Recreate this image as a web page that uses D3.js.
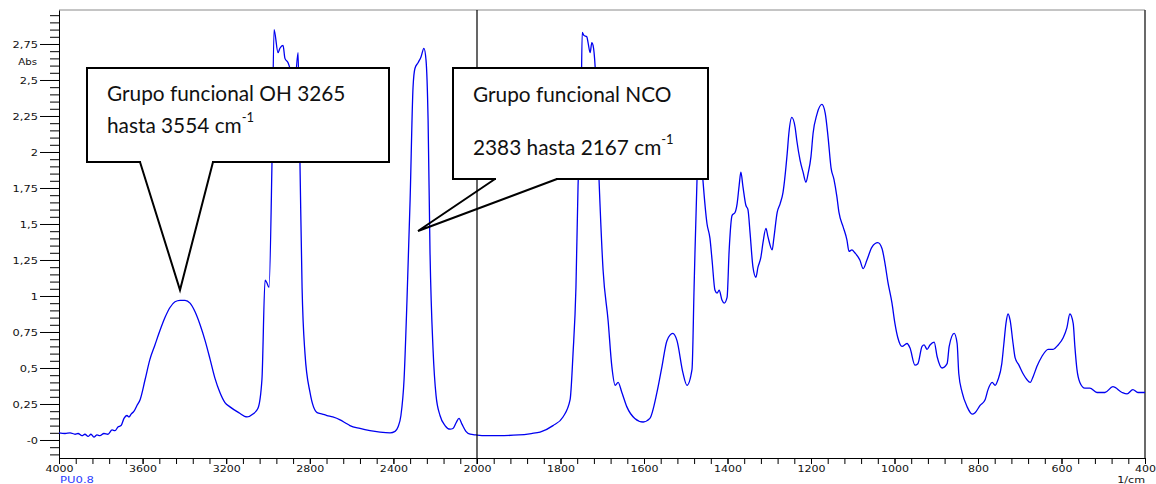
<!DOCTYPE html>
<html lang="es">
<head>
<meta charset="utf-8">
<script src="https://cdn.jsdelivr.net/npm/d3@7"></script>
<style>
  body { margin: 0; background: #fff; }
  svg { display: block; }
</style>
</head>
<body>
<script>
// spectrum: wavenumber (1/cm) and absorbance
const waveNumber = [
  4000, 3971, 3947, 3923, 3909, 3890, 3876, 3861, 3847, 3833, 3818, 3804, 3785, 3766, 3746, 3732,
  3718, 3703, 3689, 3675, 3665, 3655, 3641, 3627, 3612, 3588, 3565, 3541, 3517, 3493, 3469, 3445,
  3421, 3397, 3373, 3349, 3325, 3301, 3277, 3254, 3230, 3206, 3182, 3140, 3100, 3072, 3048, 3029,
  3014, 3005, 2995, 2981, 2971, 2952, 2943, 2928, 2919, 2904, 2895, 2880, 2866, 2856, 2847, 2837,
  2823, 2799, 2765, 2740, 2718, 2690, 2655, 2631, 2608, 2560, 2512, 2464, 2416, 2392, 2378, 2364,
  2349, 2335, 2320, 2306, 2297, 2282, 2268, 2254, 2244, 2234, 2225, 2210, 2196, 2177, 2153, 2129,
  2115, 2100, 2086, 2072, 2053, 2033, 2005, 1980, 1950, 1900, 1870, 1849, 1818, 1794, 1777, 1770,
  1763, 1758, 1751, 1748, 1744, 1737, 1734, 1729, 1725, 1722, 1717, 1708, 1698, 1686, 1677, 1669,
  1662, 1653, 1641, 1622, 1602, 1586, 1569, 1557, 1545, 1531, 1521, 1507, 1497, 1485, 1480, 1473,
  1466, 1459, 1449, 1442, 1437, 1430, 1425, 1420, 1413, 1408, 1401, 1396, 1389, 1382, 1377, 1372,
  1368, 1363, 1356, 1351, 1346, 1339, 1332, 1327, 1320, 1315, 1308, 1303, 1293, 1289, 1281, 1274,
  1267, 1257, 1253, 1246, 1238, 1234, 1226, 1219, 1212, 1207, 1200, 1195, 1186, 1174, 1166, 1159,
  1152, 1145, 1138, 1133, 1123, 1114, 1109, 1102, 1095, 1083, 1075, 1066, 1054, 1040, 1030, 1023,
  1016, 1006, 999, 992, 982, 970, 963, 951, 944, 934, 929, 922, 915, 905, 898, 886,
  874, 869, 857, 850, 846, 838, 826, 814, 807, 795, 783, 776, 766, 759, 752, 743,
  738, 733, 728, 723, 716, 711, 702, 692, 683, 675, 668, 659, 647, 632, 620, 608,
  596, 587, 580, 572, 568, 563, 556, 544, 532, 515, 496, 477, 455, 443, 429, 417, 400
];
const absorbance = [
  0.05, 0.045, 0.05, 0.04, 0.045, 0.03, 0.04, 0.025, 0.04, 0.02, 0.035, 0.03, 0.045, 0.04, 0.07, 0.065,
  0.09, 0.10, 0.15, 0.17, 0.16, 0.18, 0.20, 0.24, 0.28, 0.42, 0.56, 0.66, 0.76, 0.85, 0.92, 0.96,
  0.97, 0.97, 0.95, 0.89, 0.80, 0.69, 0.56, 0.43, 0.33, 0.26, 0.23, 0.19, 0.16, 0.18, 0.22, 0.42,
  1.11, 1.09, 1.06, 1.92, 2.85, 2.69, 2.72, 2.74, 2.65, 2.62, 2.58, 2.45, 2.55, 2.69, 1.92, 1.06,
  0.60, 0.33, 0.19, 0.18, 0.17, 0.16, 0.14, 0.12, 0.10, 0.08, 0.065, 0.055, 0.05, 0.06, 0.09, 0.17,
  0.42, 0.97, 1.67, 2.45, 2.58, 2.62, 2.66, 2.72, 2.64, 2.22, 1.32, 0.62, 0.31, 0.17, 0.10, 0.075,
  0.08, 0.12, 0.15, 0.11, 0.06, 0.04, 0.035, 0.03, 0.03, 0.035, 0.045, 0.055, 0.10, 0.16, 0.28, 0.60,
  1.06, 1.76, 2.22, 2.83, 2.81, 2.80, 2.76, 2.69, 2.76, 2.74, 2.59, 1.83, 1.18, 0.83, 0.51, 0.38,
  0.40, 0.33, 0.23, 0.15, 0.125, 0.15, 0.33, 0.51, 0.69, 0.74, 0.69, 0.47, 0.38, 0.49, 1.06, 1.81,
  2.10, 1.81, 1.50, 1.40, 1.25, 1.04, 1.02, 1.04, 0.97, 0.95, 0.99, 1.32, 1.56, 1.58, 1.64, 1.77,
  1.86, 1.76, 1.63, 1.60, 1.44, 1.20, 1.13, 1.20, 1.27, 1.37, 1.47, 1.41, 1.32, 1.40, 1.58, 1.64,
  1.72, 1.99, 2.13, 2.24, 2.17, 2.08, 1.94, 1.86, 1.79, 1.85, 1.97, 2.13, 2.26, 2.33, 2.27, 2.10,
  1.89, 1.81, 1.69, 1.58, 1.48, 1.39, 1.31, 1.32, 1.30, 1.25, 1.19, 1.25, 1.34, 1.37, 1.33, 1.23,
  1.10, 0.95, 0.81, 0.71, 0.65, 0.67, 0.64, 0.52, 0.53, 0.65, 0.66, 0.63, 0.66, 0.68, 0.58, 0.50,
  0.53, 0.65, 0.74, 0.67, 0.46, 0.33, 0.23, 0.18, 0.19, 0.24, 0.28, 0.35, 0.40, 0.38, 0.42, 0.53,
  0.67, 0.81, 0.875, 0.83, 0.67, 0.57, 0.52, 0.46, 0.42, 0.40, 0.44, 0.51, 0.58, 0.63, 0.63, 0.66,
  0.71, 0.78, 0.875, 0.81, 0.65, 0.49, 0.40, 0.36, 0.36, 0.33, 0.33, 0.37, 0.33, 0.32, 0.35, 0.33, 0.33
];

// axis ticks
const xMajor = [4000, 3600, 3200, 2800, 2400, 2000, 1800, 1600, 1400, 1200, 1000, 800, 600, 400];
const yMajor = [0, 0.25, 0.5, 0.75, 1, 1.25, 1.5, 1.75, 2, 2.25, 2.5, 2.75];
const yLabels = ["-0", "0,25", "0,5", "0,75", "1", "1,25", "1,5", "1,75", "2", "2,25", "2,5", "2,75"];

// callout texts
const calloutOH = ["Grupo funcional OH 3265", "hasta 3554 cm"];
const calloutNCO = ["Grupo funcional NCO", "2383 hasta 2167 cm"];

var width = 1156, height = 484;
var plot = {left: 59, right: 1145, top: 10, bottom: 458};

var svg = d3.select("body").append("svg")
            .attr("width", width)
            .attr("height", height)
            .style("font-family", "'DejaVu Sans', sans-serif");

// the spectrometer doubles the scale below 2000 1/cm
var x = d3.scaleLinear().domain([4000, 2000, 400]).range([plot.left, 477, plot.right]);
var y = d3.scaleLinear().domain([-0.125, 2.986]).range([plot.bottom, plot.top]);

var xMinor = d3.range(4000, 2000, -80).concat(d3.range(2000, 399, -40));
var yMinor = d3.range(-2, 60).map(k => k * 0.05);
var stretch = 1.2;

// frame
svg.append("line").attr("x1", plot.left).attr("x2", plot.right).attr("y1", plot.top).attr("y2", plot.top)
   .attr("stroke", "#8a8a8a").attr("stroke-width", 1);
svg.append("line").attr("x1", plot.right).attr("x2", plot.right).attr("y1", plot.top).attr("y2", plot.bottom)
   .attr("stroke", "#444").attr("stroke-width", 1.6);

// bottom axis
var gxMinor = svg.append("g").attr("transform", "translate(0," + plot.bottom + ")")
   .call(d3.axisBottom(x).tickValues(xMinor).tickSize(6).tickSizeOuter(0).tickFormat(""));
gxMinor.select(".domain").attr("stroke", "#000");

var gx = svg.append("g").attr("transform", "translate(0," + plot.bottom + ")")
   .call(d3.axisBottom(x).tickValues(xMajor).tickSize(6).tickPadding(1.5).tickFormat(d3.format("d")));
gx.select(".domain").remove();
gx.selectAll("text").attr("font-size", 9.2).attr("fill", "#111")
  .attr("font-family", "'DejaVu Sans', sans-serif")
  .attr("transform", "scale(" + stretch + ",1)");

// left axis
var gyMinor = svg.append("g").attr("transform", "translate(" + plot.left + ",0)")
   .call(d3.axisLeft(y).tickValues(yMinor).tickSize(9).tickSizeOuter(0).tickFormat(""));
gyMinor.select(".domain").attr("stroke", "#000");

var gy = svg.append("g").attr("transform", "translate(" + plot.left + ",0)")
   .call(d3.axisLeft(y).tickValues(yMajor).tickSize(19).tickFormat((d, i) => yLabels[i]));
gy.select(".domain").remove();
gy.selectAll("text").attr("font-size", 9.5).attr("fill", "#111")
  .attr("font-family", "'DejaVu Sans', sans-serif")
  .attr("x", -21 / stretch)
  .attr("transform", "scale(" + stretch + ",1)");

svg.append("text").attr("transform", "translate(37," + (y(2.625) + 3) + ") scale(" + stretch + ",1)")
   .attr("text-anchor", "end").attr("font-size", 8.5).attr("fill", "#111").text("Abs");

svg.append("text").attr("transform", "translate(60,482.5) scale(1.25,1)")
   .attr("font-size", 9.3).attr("fill", "#2a3cff").text("PU0.8");
svg.append("text").attr("transform", "translate(1145,482.5) scale(" + stretch + ",1)")
   .attr("text-anchor", "end").attr("font-size", 9.3).attr("fill", "#111").text("1/cm");

// the spectrum
var points = waveNumber.map((w, i) => [w, absorbance[i]]);
var line = d3.line()
   .x(d => x(d[0]))
   .y(d => y(d[1]))
   .curve(d3.curveMonotoneX);

svg.append("path").datum(points)
   .attr("d", line)
   .attr("fill", "none")
   .attr("stroke", "#0000f0")
   .attr("stroke-width", 1.3)
   .attr("stroke-linejoin", "round");

// marker line at 2000 1/cm
svg.append("line").attr("x1", x(2000)).attr("x2", x(2000)).attr("y1", plot.top).attr("y2", plot.bottom + 6)
   .attr("stroke", "#000").attr("stroke-width", 1.2);

// callouts
function callout(box, tip, base, lines) {
  svg.append("rect").attr("x", box[0]).attr("y", box[1])
     .attr("width", box[2] - box[0]).attr("height", box[3] - box[1])
     .attr("fill", "#fff").attr("stroke", "#000").attr("stroke-width", 2);
  // the pointer: a white gap in the bottom edge and two lines to the tip
  svg.append("line").attr("x1", base[0] + 1).attr("x2", base[1] - 1)
     .attr("y1", box[3]).attr("y2", box[3])
     .attr("stroke", "#fff").attr("stroke-width", 3);
  svg.append("path")
     .attr("d", "M" + base[0] + "," + box[3] + "L" + tip[0] + "," + tip[1] + "L" + base[1] + "," + box[3])
     .attr("fill", "none").attr("stroke", "#000").attr("stroke-width", 2)
     .attr("stroke-linejoin", "miter");
  lines.forEach(function(l) {
    var t = svg.append("text").attr("x", l.x).attr("y", l.y)
       .attr("font-family", "Lato, 'Open Sans', sans-serif")
       .attr("font-size", 20.8).attr("fill", "#111").text(l.text);
    if (l.sup) {
      t.append("tspan").attr("dy", -11).attr("font-size", 13).text("-1");
    }
  });
}

callout([87, 68, 389, 162], [180, 290], [140, 213], [
  {x: 107, y: 101, text: calloutOH[0]},
  {x: 107, y: 133, text: calloutOH[1], sup: true}
]);
callout([453, 68, 708, 179], [418, 231], [495, 557], [
  {x: 473, y: 102, text: calloutNCO[0]},
  {x: 473, y: 155, text: calloutNCO[1], sup: true}
]);
</script>
</body>
</html>
